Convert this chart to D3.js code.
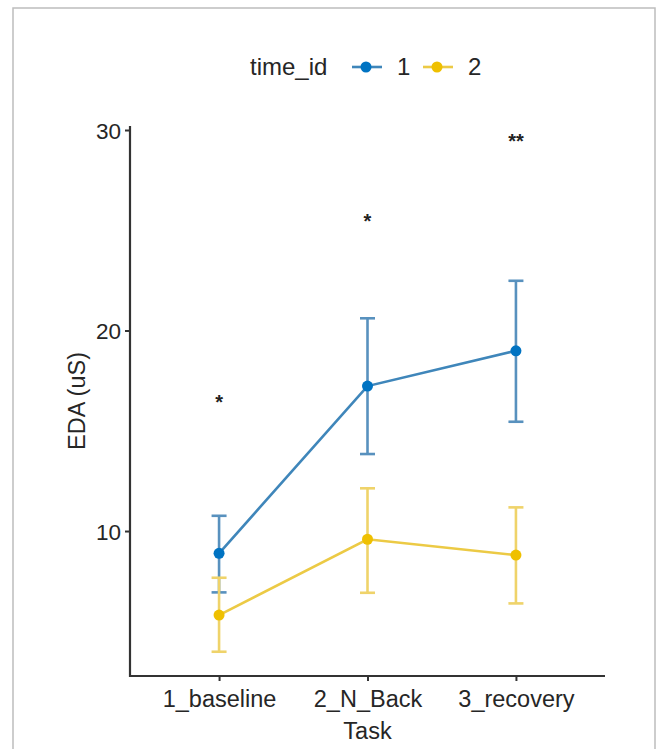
<!DOCTYPE html>
<html>
<head>
<meta charset="utf-8">
<script src="https://cdn.jsdelivr.net/npm/d3@7"></script>
<style>
  html, body { margin: 0; padding: 0; background: #ffffff; }
  svg { display: block; }
  text { font-family: "Liberation Sans", Arial, sans-serif; }
</style>
</head>
<body>
<svg id="chart" width="659" height="749"></svg>
<script>
// ---- data ----
const tasks = ["1_baseline", "2_N_Back", "3_recovery"];
const seriesIds = ["1", "2"];
const seriesColors = ["#0073C2", "#EFC000"];
const lineColors = ["#3f86ba", "#ecca45"];
const barColors = ["#5891be", "#efd36a"];
const mean1 = [8.89, 17.23, 18.99];
const lower1 = [6.94, 13.84, 15.45];
const upper1 = [10.76, 20.61, 22.48];
const mean2 = [5.81, 9.59, 8.80];
const lower2 = [3.98, 6.92, 6.39];
const upper2 = [7.67, 12.13, 11.18];
const sigLabels = ["*", "*", "**"];
const sigY = [16.68, 25.68, 29.67];
const yTicks = [10, 20, 30];

const series = [
  { id: seriesIds[0], color: seriesColors[0], lc: lineColors[0], bc: barColors[0], mean: mean1, lo: lower1, hi: upper1 },
  { id: seriesIds[1], color: seriesColors[1], lc: lineColors[1], bc: barColors[1], mean: mean2, lo: lower2, hi: upper2 }
];

const svg = d3.select("#chart");
const axisColor = "#333333";
const textColor = "#262626";

// frame border
svg.append("rect").attr("x", 13).attr("y", 8).attr("width", 642).attr("height", 760)
  .attr("fill", "#ffffff").attr("stroke", "#bdbdbd").attr("stroke-width", 1.5);

const x = d3.scalePoint().domain(tasks).range([130, 605]).padding(0.6);
const y = d3.scaleLinear().domain([2.77, 30.2]).range([676, 126]);

// axes
const gx = svg.append("g").attr("transform", "translate(0,676)")
  .call(d3.axisBottom(x).tickSizeOuter(0).tickSize(5).tickPadding(9));
const gy = svg.append("g").attr("transform", "translate(130,0)")
  .call(d3.axisLeft(y).tickValues(yTicks).tickSizeOuter(0).tickSize(5).tickPadding(4));

[gx, gy].forEach(g => {
  g.select(".domain").attr("stroke", axisColor).attr("stroke-width", 2.2);
  g.selectAll(".tick line").attr("stroke", axisColor).attr("stroke-width", 2);
  g.selectAll(".tick text").attr("fill", textColor).style("font-family", "Liberation Sans, Arial, sans-serif");
});
gx.selectAll(".tick text").style("font-size", "23.5px");
gy.selectAll(".tick text").style("font-size", "22.5px").attr("dy", "0.36em");
gy.select(".domain").attr("d", "M0,126V677");
gx.select(".domain").attr("d", "M129,0H605");

// axis titles
svg.append("text").attr("x", x("2_N_Back")).attr("y", 739).attr("text-anchor", "middle")
  .attr("fill", textColor).style("font-size", "23.5px").text("Task");
svg.append("text").attr("transform", "translate(85,401) rotate(-90)").attr("text-anchor", "middle")
  .attr("fill", textColor).style("font-size", "23.5px").text("EDA (uS)");

// series
const line = d3.line();
series.forEach(s => {
  const g = svg.append("g");
  tasks.forEach((t, i) => {
    const cx = x(t);
    g.append("line").attr("x1", cx).attr("x2", cx).attr("y1", y(s.lo[i])).attr("y2", y(s.hi[i]))
      .attr("stroke", s.bc).attr("stroke-width", 2.6);
    [s.lo[i], s.hi[i]].forEach(v => {
      g.append("line").attr("x1", cx - 7.5).attr("x2", cx + 7.5).attr("y1", y(v)).attr("y2", y(v))
        .attr("stroke", s.bc).attr("stroke-width", 2.6);
    });
  });
  g.append("path").attr("d", line(tasks.map((t, i) => [x(t), y(s.mean[i])])))
    .attr("fill", "none").attr("stroke", s.lc).attr("stroke-width", 2.6);
  g.selectAll("circle").data(s.mean).enter().append("circle")
    .attr("cx", (d, i) => x(tasks[i])).attr("cy", d => y(d)).attr("r", 5.5).attr("fill", s.color);
});

// significance labels
const sigFs = 20;
svg.selectAll(".sig").data(sigLabels).enter().append("text").attr("class", "sig")
  .attr("x", (d, i) => x(tasks[i])).attr("y", (d, i) => y(sigY[i]) + 0.58 * sigFs)
  .attr("text-anchor", "middle").attr("fill", "#222").style("font-size", sigFs + "px")
  .style("font-weight", "bold").text(d => d);

// legend
const lg = svg.append("g");
lg.append("text").attr("x", 250).attr("y", 75).attr("fill", textColor).style("font-size", "24px").text("time_id");
const legX = [352, 423];
series.forEach((s, i) => {
  const lx = legX[i];
  lg.append("line").attr("x1", lx).attr("x2", lx + 30).attr("y1", 67).attr("y2", 67)
    .attr("stroke", s.lc).attr("stroke-width", 2.6);
  lg.append("circle").attr("cx", lx + 14).attr("cy", 67).attr("r", 5.5).attr("fill", s.color);
  lg.append("text").attr("x", lx + 45).attr("y", 75).attr("fill", textColor).style("font-size", "24px").text(s.id);
});
</script>
</body>
</html>
